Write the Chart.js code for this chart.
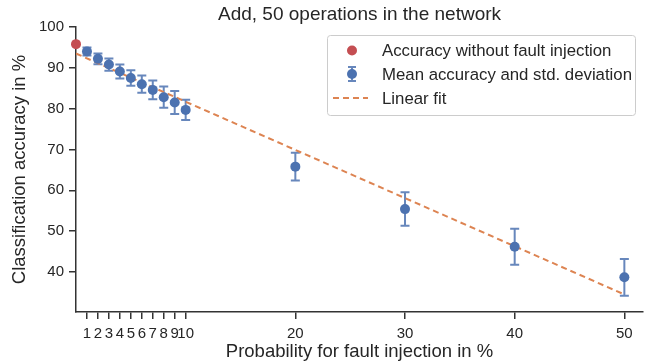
<!DOCTYPE html>
<html>
<head>
<meta charset="utf-8">
<script src="https://cdn.jsdelivr.net/npm/chart.js@4"></script>
<style>
  html, body { margin: 0; padding: 0; background: #fff; }
  #wrap { width: 648px; height: 364px; }
</style>
</head>
<body>
<div id="wrap"><canvas id="myChart" width="648" height="364"></canvas></div>
<script>
const FONT = "'Liberation Sans', Arial, sans-serif";
const TITLE = 'Add, 50 operations in the network';

// data
const baseX = [0];
const baseAcc = [95.8];
const probs = [1, 2, 3, 4, 5, 6, 7, 8, 9, 10, 20, 30, 40, 50];
const meanAcc = [94.0, 92.2, 90.8, 89.1, 87.5, 86.0, 84.6, 82.8, 81.5, 79.7, 65.8, 55.4, 46.2, 38.7];
const stdAcc = [1.0, 1.3, 1.5, 1.7, 1.9, 2.1, 2.3, 2.6, 2.8, 2.5, 3.4, 4.1, 4.4, 4.5];
const fitX = [0, 50];
const fitY = [93.5, 34.5];
const xTicks = [1, 2, 3, 4, 5, 6, 7, 8, 9, 10, 20, 30, 40, 50];
const yTicks = [40, 50, 60, 70, 80, 90, 100];

const blue = '#4c72b0';
const red = '#c44e52';
const orange = '#dd8452';
const axisCol = '#333333';
const barCol = 'rgba(76,114,176,0.85)';

const errorBars = {
  id: 'errorBars',
  beforeDatasetsDraw(chart) {
    const ctx = chart.ctx;
    const xs = chart.scales.x, ys = chart.scales.y;
    ctx.save();
    ctx.strokeStyle = barCol;
    ctx.lineWidth = 2;
    probs.forEach((p, i) => {
      const x = xs.getPixelForValue(p);
      const top = ys.getPixelForValue(meanAcc[i] + stdAcc[i]);
      const bot = ys.getPixelForValue(meanAcc[i] - stdAcc[i]);
      ctx.beginPath();
      ctx.moveTo(x, top); ctx.lineTo(x, bot);
      ctx.moveTo(x - 4.5, top); ctx.lineTo(x + 4.5, top);
      ctx.moveTo(x - 4.5, bot); ctx.lineTo(x + 4.5, bot);
      ctx.stroke();
    });
    ctx.restore();
  }
};

// title centred over the plot area, like matplotlib does
const areaTitle = {
  id: 'areaTitle',
  afterDraw(chart) {
    const ctx = chart.ctx;
    const a = chart.chartArea;
    ctx.save();
    ctx.fillStyle = '#262626';
    ctx.font = '19px ' + FONT;
    ctx.textAlign = 'center';
    ctx.textBaseline = 'middle';
    ctx.fillText(TITLE, (a.left + a.right) / 2, 15);
    ctx.restore();
  }
};

const boxLegend = {
  id: 'boxLegend',
  afterDraw(chart) {
    const ctx = chart.ctx;
    const ds = chart.data.datasets;
    const x0 = 327, y0 = 35, w = 308, h = 80;
    ctx.save();
    ctx.fillStyle = 'rgba(255,255,255,0.8)';
    ctx.strokeStyle = '#cccccc';
    ctx.lineWidth = 1;
    ctx.beginPath();
    ctx.roundRect(x0 + 0.5, y0 + 0.5, w, h, 3);
    ctx.fill(); ctx.stroke();
    const rows = [50.5, 74, 98];
    const mx = 352;
    // red dot
    ctx.fillStyle = red;
    ctx.beginPath(); ctx.arc(mx, rows[0], 5, 0, Math.PI * 2); ctx.fill();
    // point with error bar
    ctx.strokeStyle = barCol;
    ctx.lineWidth = 2;
    ctx.beginPath();
    ctx.moveTo(mx, rows[1] - 7); ctx.lineTo(mx, rows[1] + 7);
    ctx.moveTo(mx - 4, rows[1] - 7); ctx.lineTo(mx + 4, rows[1] - 7);
    ctx.moveTo(mx - 4, rows[1] + 7); ctx.lineTo(mx + 4, rows[1] + 7);
    ctx.stroke();
    ctx.fillStyle = blue;
    ctx.beginPath(); ctx.arc(mx, rows[1], 5, 0, Math.PI * 2); ctx.fill();
    // dashed line
    ctx.strokeStyle = orange;
    ctx.setLineDash([6, 4]);
    ctx.beginPath(); ctx.moveTo(333, rows[2]); ctx.lineTo(368, rows[2]); ctx.stroke();
    ctx.setLineDash([]);
    ctx.fillStyle = '#262626';
    ctx.font = '16.8px ' + FONT;
    ctx.textBaseline = 'middle';
    ds.forEach((d, i) => ctx.fillText(d.label, 382, rows[i] + 1));
    ctx.restore();
  }
};

const ctx = document.getElementById('myChart').getContext('2d');
let myChart = new Chart(ctx, {
  type: 'scatter',
  data: {
    datasets: [
      {
        label: 'Accuracy without fault injection',
        data: baseX.map((x, i) => ({ x: x, y: baseAcc[i] })),
        backgroundColor: red,
        borderWidth: 0,
        pointRadius: 5,
        clip: false,
        order: 0
      },
      {
        label: 'Mean accuracy and std. deviation',
        data: probs.map((x, i) => ({ x: x, y: meanAcc[i] })),
        backgroundColor: blue,
        borderWidth: 0,
        pointRadius: 5,
        clip: false,
        order: 1
      },
      {
        label: 'Linear fit',
        data: fitX.map((x, i) => ({ x: x, y: fitY[i] })),
        showLine: true,
        borderColor: orange,
        borderDash: [6, 4],
        borderWidth: 2,
        pointRadius: 0,
        order: 2
      }
    ]
  },
  plugins: [errorBars, areaTitle, boxLegend],
  options: {
    responsive: false,
    animation: false,
    layout: { padding: { left: 0, right: 3, top: 27, bottom: 0 } },
    plugins: {
      legend: { display: false },
      tooltip: { enabled: false },
      title: { display: false }
    },
    scales: {
      x: {
        type: 'linear',
        min: 0,
        max: 51.7,
        afterBuildTicks: s => { s.ticks = xTicks.map(v => ({ value: v })); },
        afterFit: s => { s.height = 52; },
        border: { display: true, color: axisCol, width: 1.5 },
        grid: { drawOnChartArea: false, drawTicks: true, tickLength: 7, color: axisCol, lineWidth: 1.5 },
        ticks: { autoSkip: false, maxRotation: 0, padding: 6, color: '#262626', font: { family: FONT, size: 15 } },
        title: { display: true, text: 'Probability for fault injection in %', color: '#262626', font: { family: FONT, size: 18.5 }, padding: { top: 0, bottom: 1 } }
      },
      y: {
        min: 30.2,
        max: 100,
        afterBuildTicks: s => { s.ticks = yTicks.map(v => ({ value: v })); },
        afterFit: s => { s.width = 76; },
        border: { display: true, color: axisCol, width: 1.5 },
        grid: { drawOnChartArea: false, drawTicks: true, tickLength: 7, color: axisCol, lineWidth: 1.5 },
        ticks: { padding: 5, color: '#262626', font: { family: FONT, size: 15 } },
        title: { display: true, text: 'Classification accuracy in %', color: '#262626', font: { family: FONT, size: 18.5 }, padding: { top: 9, bottom: 0 } }
      }
    }
  }
});
</script>
</body>
</html>
